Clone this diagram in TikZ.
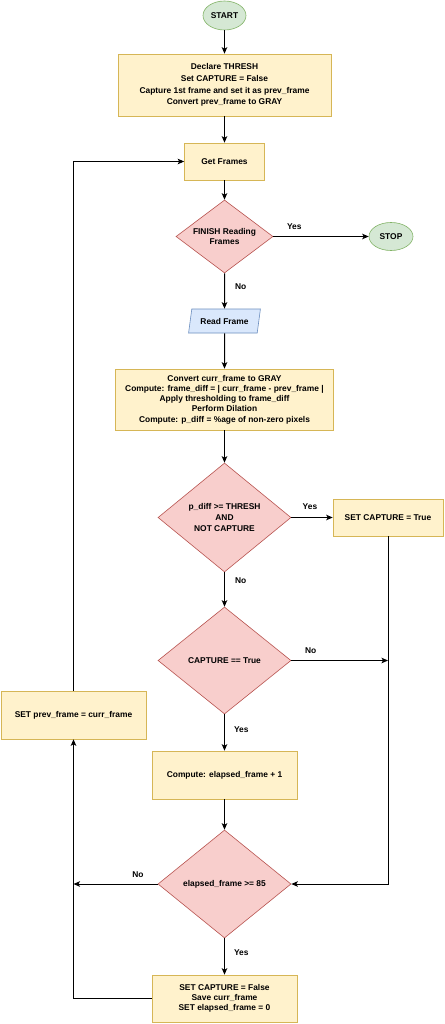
\documentclass[tikz,border=0pt]{standalone}
\usepackage{fontspec}
\setmainfont{Liberation Sans}
\usetikzlibrary{shapes.geometric,arrows.meta}
\definecolor{yfill}{HTML}{FFF2CC}
\definecolor{ydraw}{HTML}{D6B656}
\definecolor{rfill}{HTML}{F8CECC}
\definecolor{rdraw}{HTML}{B85450}
\definecolor{gfill}{HTML}{D5E8D4}
\definecolor{gdraw}{HTML}{82B366}
\definecolor{bfill}{HTML}{DAE8FC}
\definecolor{bdraw}{HTML}{6C8EBF}
\tikzset{
  txt/.style={font=\fontsize{8.4}{10.3}\selectfont\bfseries, align=center, text=black},
  ybox/.style={txt, rectangle, fill=yfill, draw=ydraw, line width=0.6pt, inner sep=0pt},
  rdia/.style={txt, diamond, aspect=1.3, fill=rfill, draw=rdraw, line width=0.6pt, inner sep=0pt},
  gell/.style={txt, ellipse, fill=gfill, draw=gdraw, line width=0.6pt, inner sep=0pt},
  bpar/.style={txt, trapezium, trapezium left angle=69, trapezium right angle=111,
    trapezium stretches=true, fill=bfill, draw=bdraw, line width=0.6pt, inner sep=0pt},
  conn/.style={draw=black, line width=1pt, -{Stealth[length=6.5pt,width=5.5pt,inset=1.5pt]}},
  lbl/.style={txt, inner sep=0pt}
}
\begin{document}
\begin{tikzpicture}[x=1pt,y=-1pt]
\fill[white] (0,0) rectangle (444,1024);
\useasboundingbox (0,0) rectangle (444,1024);

\node[gell, minimum width=43pt, minimum height=29pt] (start) at (224.5,15.5) {START};
\node[ybox, minimum width=213pt, minimum height=62pt, font=\fontsize{8.4}{11.7}\selectfont\bfseries] (declare) at (224.5,85)
  {Declare THRESH\\Set CAPTURE = False\\Capture 1st frame and set it as prev\_frame\\Convert prev\_frame to GRAY};
\node[ybox, minimum width=80pt, minimum height=37pt] (getframes) at (224.5,161.5) {Get Frames};
\node[rdia, minimum width=97pt, minimum height=73pt] (finish) at (224.5,236.5) {FINISH Reading\\Frames};
\node[gell, minimum width=44pt, minimum height=28pt] (stop) at (391,236.5) {STOP};
\node[bpar, minimum width=72pt, minimum height=24pt] (read) at (224.5,321) {Read Frame};
\node[ybox, minimum width=218pt, minimum height=61pt] (convert) at (224.5,399.5)
  {Convert curr\_frame to GRAY\\Compute: frame\_diff = | curr\_frame - prev\_frame |\\Apply thresholding to frame\_diff\\Perform Dilation\\Compute: p\_diff = \%age of non-zero pixels};
\node[rdia, minimum width=133pt, minimum height=109pt, font=\fontsize{8.4}{10.7}\selectfont\bfseries] (pdiff) at (224.5,517.5) {p\_diff >= THRESH\\AND\\NOT CAPTURE};
\node[ybox, minimum width=110pt, minimum height=37pt] (settrue) at (388,517.5) {SET CAPTURE = True};
\node[rdia, minimum width=133pt, minimum height=107pt] (capture) at (224.5,660.5) {CAPTURE == True};
\node[ybox, minimum width=145pt, minimum height=48pt] (compute) at (224.5,775) {Compute: elapsed\_frame + 1};
\node[rdia, minimum width=133pt, minimum height=108pt] (elapsed) at (224.5,884) {elapsed\_frame >= 85};
\node[ybox, minimum width=145pt, minimum height=47pt] (setfalse) at (224.5,998.5) {SET CAPTURE = False\\Save curr\_frame\\SET elapsed\_frame = 0};
\node[ybox, minimum width=145pt, minimum height=48pt] (setprev) at (73.5,715) {SET prev\_frame = curr\_frame};

\coordinate (j1) at (388,660.5);
\coordinate (j2) at (73.5,884);

\draw[conn] (start) -- (declare);
\draw[conn] (declare) -- (getframes);
\draw[conn] (getframes) -- (finish);
\draw[conn] (finish.east) -- node[lbl, pos=0.22, above=6.5pt] {Yes} (stop.west);
\draw[conn] (finish.south) -- node[lbl, pos=0.39, anchor=west, xshift=10pt] {No} (read.north);
\draw[conn] (read) -- (convert);
\draw[conn] (convert) -- (pdiff);
\draw[conn] (pdiff.east) -- node[lbl, pos=0.45, above=7pt] {Yes} (settrue.west);
\draw[conn] (pdiff.south) -- node[lbl, pos=0.25, anchor=west, xshift=10pt] {No} (capture.north);
\draw[conn] (capture.east) -- node[lbl, pos=0.2, above=6pt] {No} (j1);
\draw[conn] (settrue.south) |- (elapsed.east);
\draw[conn] (capture.south) -- node[lbl, pos=0.43, anchor=west, xshift=9pt] {Yes} (compute.north);
\draw[conn] (compute) -- (elapsed);
\draw[conn] (elapsed.west) -- node[lbl, pos=0.235, above=6pt] {No} (j2);
\draw[conn] (elapsed.south) -- node[lbl, pos=0.4, anchor=west, xshift=9pt] {Yes} (setfalse.north);
\draw[conn] (setfalse.west) -| (setprev.south);
\draw[conn] (setprev.north) |- (getframes.west);
\end{tikzpicture}
\end{document}
